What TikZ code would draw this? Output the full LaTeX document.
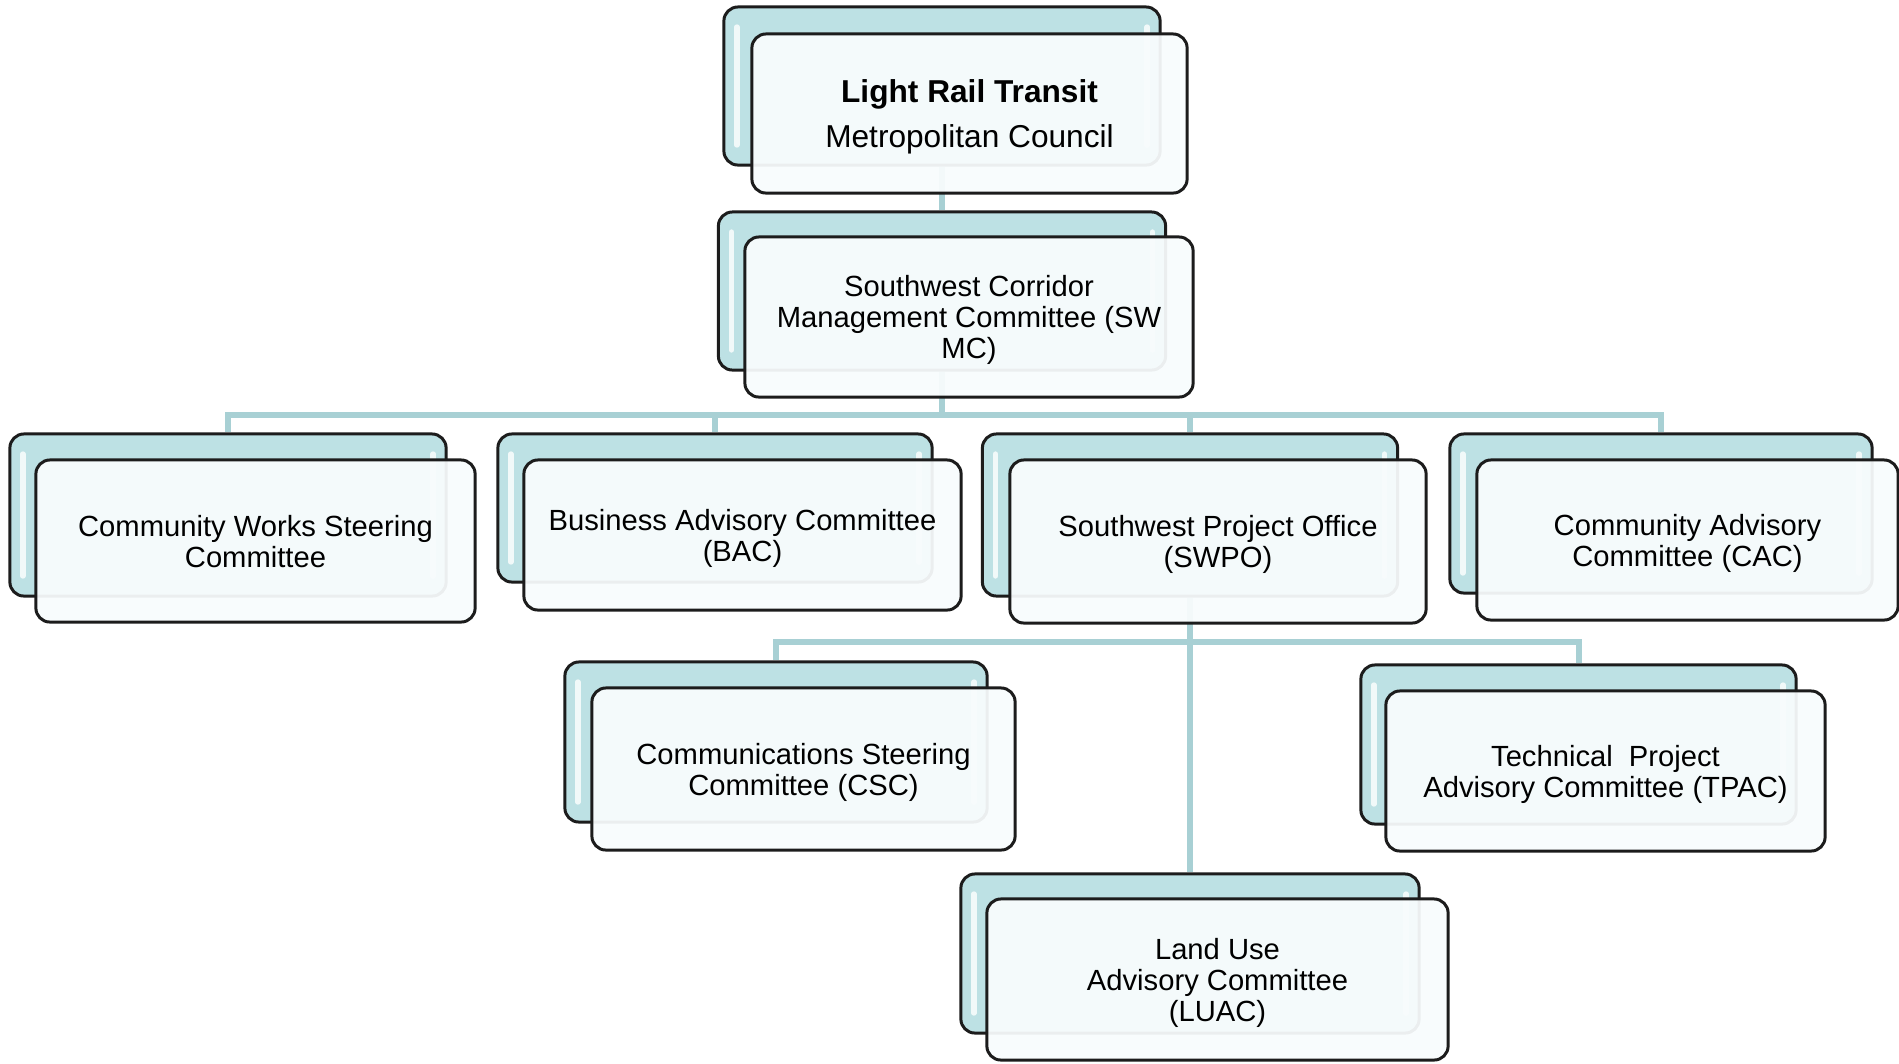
\documentclass[tikz,border=0pt]{standalone}
\usepackage{fontspec}
\setmainfont{Liberation Sans}
\usepackage{xcolor}
\usetikzlibrary{backgrounds}

\definecolor{cardteal}{RGB}{189,225,228}
\definecolor{cardface}{RGB}{248,252,253}
\definecolor{linkteal}{RGB}{168,208,212}
\definecolor{cardedge}{RGB}{28,28,28}

\tikzset{
	backcard/.style={draw=cardedge, line width=.85pt, fill=cardteal, rounded corners=4pt, inner sep=0pt,
		path picture={
			\draw[white, opacity=.8, line width=1.5pt, line cap=round]
				([xshift=.13cm,yshift=-.2cm]path picture bounding box.north west) --
				([xshift=.13cm,yshift=.2cm]path picture bounding box.south west);
			\draw[white, opacity=.8, line width=1.5pt, line cap=round]
				([xshift=-.13cm,yshift=-.2cm]path picture bounding box.north east) --
				([xshift=-.13cm,yshift=.2cm]path picture bounding box.south east);
		}},
	frontcard/.style={draw=cardedge, line width=.85pt, fill=cardface, fill opacity=.94, text opacity=1,
		rounded corners=4pt, inner sep=0pt, align=center, text depth=-.2pt, font=\fontsize{8.3}{8.8}\selectfont},
	link/.style={draw=linkteal, line width=1.7pt},
}

\begin{document}
\begin{tikzpicture}[x=0.01cm, y=-0.01cm]
	\useasboundingbox (0,0) rectangle (1899,1063);

	\node[backcard, minimum width=4.36cm, minimum height=1.58cm] (lrt) at (942,86) {};
	\node[frontcard, minimum width=4.35cm, minimum height=1.59cm, font=\fontsize{9}{13}\selectfont] (lrt face) at (969.5,113.5) {\textbf{Light Rail Transit}\\Metropolitan Council};

	\node[backcard, minimum width=4.47cm, minimum height=1.58cm] (swmc) at (942,291) {};
	\node[frontcard, minimum width=4.48cm, minimum height=1.60cm] (swmc face) at (969,317) {Southwest Corridor\\Management Committee (SW\\MC)};

	\node[backcard, minimum width=4.36cm, minimum height=1.62cm] (cwsc) at (228,515) {};
	\node[frontcard, minimum width=4.39cm, minimum height=1.62cm] (cwsc face) at (255.5,541) {Community Works Steering\\Committee};

	\node[backcard, minimum width=4.34cm, minimum height=1.48cm] (bac) at (715,508) {};
	\node[frontcard, minimum width=4.37cm, minimum height=1.50cm] (bac face) at (742.5,535) {Business Advisory Committee\\(BAC)};

	\node[backcard, minimum width=4.15cm, minimum height=1.62cm] (swpo) at (1190,515) {};
	\node[frontcard, minimum width=4.16cm, minimum height=1.63cm] (swpo face) at (1218,541.5) {Southwest Project Office\\(SWPO)};

	\node[backcard, minimum width=4.22cm, minimum height=1.59cm] (cac) at (1661,513.5) {};
	\node[frontcard, minimum width=4.21cm, minimum height=1.60cm] (cac face) at (1687.5,540) {Community Advisory\\Committee (CAC)};

	\node[backcard, minimum width=4.22cm, minimum height=1.60cm] (csc) at (776,742) {};
	\node[frontcard, minimum width=4.23cm, minimum height=1.62cm] (csc face) at (803.5,769) {Communications Steering\\Committee (CSC)};

	\node[backcard, minimum width=4.35cm, minimum height=1.59cm] (tpac) at (1578.5,744.5) {};
	\node[frontcard, minimum width=4.39cm, minimum height=1.60cm] (tpac face) at (1605.5,771) {Technical\ \ Project\\Advisory Committee (TPAC)};

	\node[backcard, minimum width=4.58cm, minimum height=1.59cm] (luac) at (1190,953.5) {};
	\node[frontcard, minimum width=4.61cm, minimum height=1.61cm] (luac face) at (1217.5,979.5) {Land Use\\Advisory Committee\\(LUAC)};

	\coordinate (bus1) at (942,415);
	\coordinate (bus2) at (1190,642);

	\begin{scope}[on background layer]
		\draw[link] (lrt) -- (swmc);
		\draw[link] (swmc) -- (bus1);
		\draw[link] (cwsc) |- (bus1) -| (cac);
		\draw[link] (bac) |- (bus1);
		\draw[link] (swpo) |- (bus1);
		\draw[link] (swpo) -- (luac);
		\draw[link] (csc) |- (bus2) -| (tpac);
	\end{scope}
\end{tikzpicture}
\end{document}
